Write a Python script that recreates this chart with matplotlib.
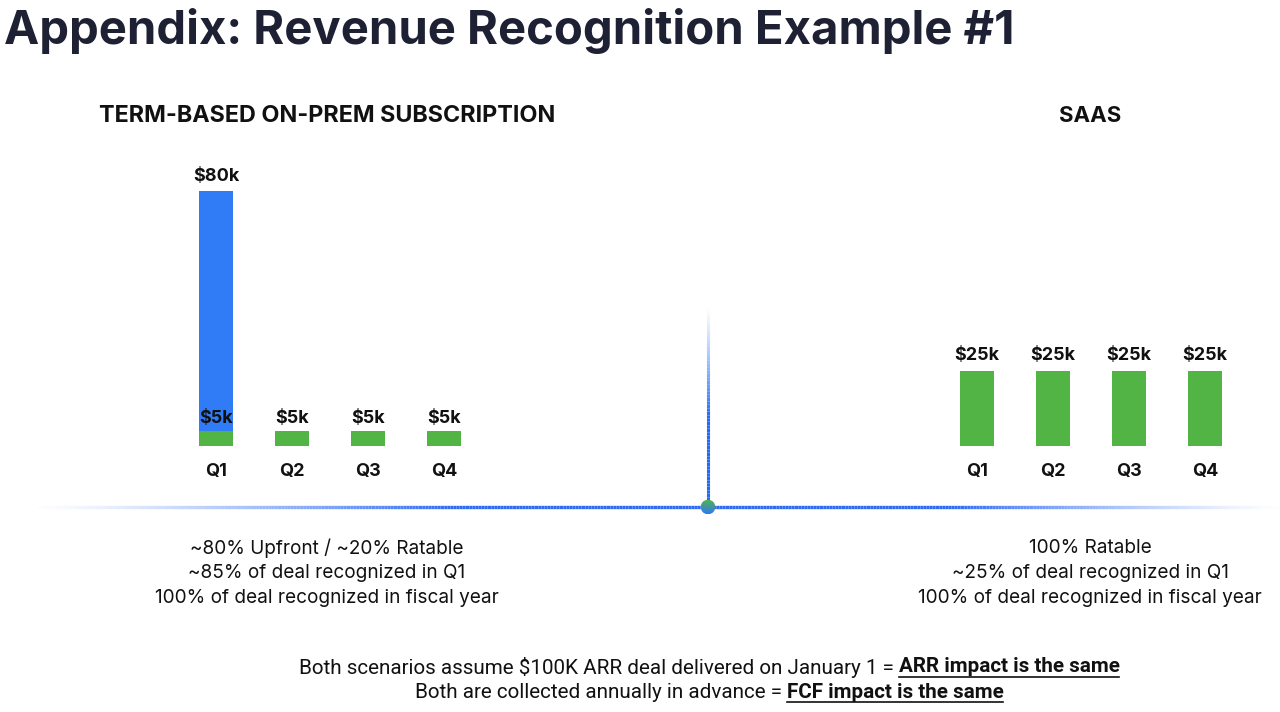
import numpy as np
import matplotlib.pyplot as plt
from matplotlib.collections import LineCollection
from matplotlib.patches import Circle
from matplotlib import font_manager

# data
quarters = ['Q1', 'Q2', 'Q3', 'Q4']
term_ratable = [5, 5, 5, 5]        # $k, green part
term_upfront = [80, 0, 0, 0]       # $k, blue part on top of Q1
saas_ratable = [25, 25, 25, 25]    # $k

term_notes = ['~80% Upfront / ~20% Ratable',
              '~85% of deal recognized in Q1',
              '100% of deal recognized in fiscal year']
saas_notes = ['100% Ratable',
              '~25% of deal recognized in Q1',
              '100% of deal recognized in fiscal year']

BLUE = '#2f7cf6'
GREEN = '#52b445'
NAVY = '#1e2033'
DARK = '#111111'

names = {f.name for f in font_manager.fontManager.ttflist}
narrow = 'Liberation Sans Narrow' if 'Liberation Sans Narrow' in names else 'Roboto'

W, H = 1280, 712
fig = plt.figure(figsize=(12.8, 7.12), dpi=100)
plt.rcParams['font.family'] = ['Inter', 'DejaVu Sans']

def px_ax(x0, y_top, w, h):
    # axes from pixel box (y measured from the top)
    return fig.add_axes([x0 / W, 1 - (y_top + h) / H, w / W, h / H])

# background overlay for lines, dot and text (pixel coords)
bg = fig.add_axes([0, 0, 1, 1])
bg.set_xlim(0, W)
bg.set_ylim(H, 0)
bg.axis('off')

# horizontal fading line
xs = np.linspace(30, 1280, 400)
a = np.clip(np.minimum((xs - 30) / 420, (1280 - xs) / 330), 0, 1) ** 1.3
segs = [[(xs[i], 507), (xs[i + 1], 507)] for i in range(len(xs) - 1)]
cols = [(0.18, 0.42, 0.96, a[i]) for i in range(len(xs) - 1)]
bg.add_collection(LineCollection(segs, colors=cols, linewidths=2.4, capstyle='butt'))

# vertical fading line
ys = np.linspace(305, 507, 60)
av = np.clip((ys - 305) / 110, 0, 1) ** 1.2
segs = [[(708, ys[i]), (708, ys[i + 1])] for i in range(len(ys) - 1)]
cols = [(0.12, 0.42, 0.98, av[i]) for i in range(len(ys) - 1)]
bg.add_collection(LineCollection(segs, colors=cols, linewidths=2.2, capstyle='butt'))

# green-to-blue dot
grad = np.linspace(0, 1, 50)[:, None]
g = np.array([0.33, 0.71, 0.27])
b = np.array([0.18, 0.48, 0.96])
img = (g[None, None, :] * (1 - grad[..., None]) + b[None, None, :] * grad[..., None])
img = np.repeat(img, 2, axis=1)
im = bg.imshow(img, extent=(700.5, 715.5, 514.5, 499.5), aspect='auto', zorder=5)
circ = Circle((708, 507), 7.3, transform=bg.transData, facecolor='none', edgecolor='none')
bg.add_patch(circ)
im.set_clip_path(circ)
bg.set_xlim(0, W)
bg.set_ylim(H, 0)

# title and subtitles
bg.text(4, 31, 'Appendix: Revenue Recognition Example #1', fontsize=34, fontweight='bold',
        color=NAVY, ha='left', va='center')
bg.text(327, 116, 'TERM-BASED ON-PREM SUBSCRIPTION', fontsize=16.8, fontweight='bold',
        color=DARK, ha='center', va='center')
bg.text(1090, 116, 'SAAS', fontsize=16, fontweight='bold',
        color=DARK, ha='center', va='center')

for i, (t1, t2) in enumerate(zip(term_notes, saas_notes)):
    bg.text(327, 548 + 25 * i, t1, fontsize=13.7, color=DARK, ha='center', va='center')
    bg.text(1090, 548 + 25 * i, t2, fontsize=13.7, color=DARK, ha='center', va='center')

# bar charts: 3 px per $k, baseline at y=446
def bar_panel(ax):
    ax.set_xlim(-1, 4)
    ax.set_ylim(0, 286 / 3)
    ax.axis('off')
    for i, q in enumerate(quarters):
        ax.annotate(q, (i, 0), xytext=(0, -18.5), textcoords='offset points',
                    ha='center', va='center', fontsize=13, fontweight='bold', color=DARK)

x = np.arange(len(quarters))
ax1 = px_ax(140, 160, 380, 286)
ax1.bar(x, term_ratable, width=0.45, color=GREEN, zorder=2)
ax1.bar(x, term_upfront, width=0.45, bottom=term_ratable, color=BLUE, zorder=2)
bar_panel(ax1)
for i, v in enumerate(term_ratable):
    ax1.annotate(f'${v}k', (i, v), xytext=(0, 9), textcoords='offset points',
                 ha='center', va='center', fontsize=13, fontweight='bold', color=DARK, zorder=3)
ax1.annotate(f'${term_upfront[0]}k', (0, term_ratable[0] + term_upfront[0]), xytext=(0, 10.5),
             textcoords='offset points', ha='center', va='center', fontsize=13,
             fontweight='bold', color=DARK)

ax2 = px_ax(901, 160, 380, 286)
ax2.bar(x, saas_ratable, width=0.45, color=GREEN, zorder=2)
bar_panel(ax2)
for i, v in enumerate(saas_ratable):
    ax2.annotate(f'${v}k', (i, v), xytext=(0, 11), textcoords='offset points',
                 ha='center', va='center', fontsize=13, fontweight='bold', color=DARK)

# footnote lines: regular part + bold underlined part, centred together
fig.canvas.draw()
rend = fig.canvas.get_renderer()
foot = [('Both scenarios assume $100K ARR deal delivered on January 1 = ', 'ARR impact is the same', 667),
        ('Both are collected annually in advance = ', 'FCF impact is the same', 692)]
for plain, strong, yc in foot:
    t1 = bg.text(0, yc, plain, fontsize=14.9, family=narrow, color=DARK, va='center', ha='left')
    t2 = bg.text(0, yc, strong, fontsize=14.9, family=narrow, fontweight='bold', color=DARK,
                 va='center', ha='left')
    w1 = t1.get_window_extent(rend).width
    w2 = t2.get_window_extent(rend).width
    x0 = 709 - (w1 + w2) / 2
    t1.set_x(x0)
    t2.set_x(x0 + w1)
    bg.plot([x0 + w1, x0 + w1 + w2], [yc + 10, yc + 10], color=DARK, lw=1.2)

fig.savefig('out.png', dpi=100)
